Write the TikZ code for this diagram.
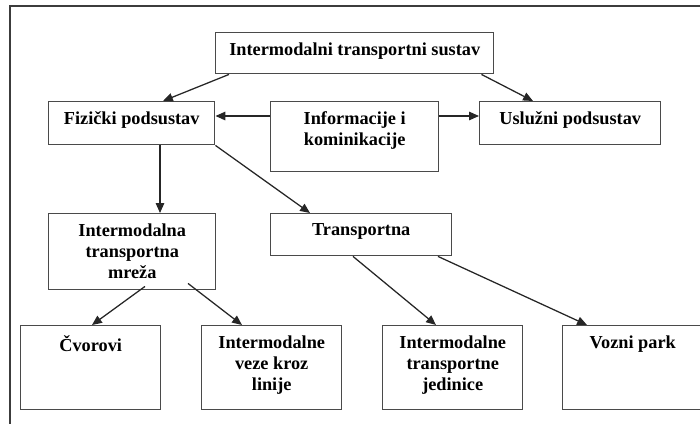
\documentclass[tikz,border=0pt]{standalone}
\usepackage{fontspec}
\setmainfont{Liberation Serif}
\usepackage{tikz}
\usetikzlibrary{arrows.meta, positioning, calc}
\definecolor{frameline}{HTML}{3C3C3C}
\definecolor{boxline}{HTML}{4A4A4A}

\tikzset{
  box/.style={draw=boxline, line width=1pt, inner sep=0pt, anchor=north west},
  boxtext/.style={anchor=north, yshift=-7.5pt, align=center, inner sep=0pt,
    font=\fontsize{13}{15}\selectfont\bfseries},
  arr/.style={-{Triangle[length=7pt,width=6pt]}, line width=0.9pt, draw=black!85}
}

\begin{document}
\begin{tikzpicture}[x=0.025cm, y=-0.025cm]
  \useasboundingbox (0,0) rectangle (700,423);
  \clip (0,0) rectangle (700,423);
  % outer frame, cut at right and bottom
  \draw[frameline, line width=0.8pt] (10,430) -- (10,6) -- (710,6);

  % first row
  \node[box, minimum width=6.95cm, minimum height=1.025cm,
    label={[boxtext]north:Intermodalni transportni sustav}] (top) at (215,32) {};
  \node[box, minimum width=4.15cm, minimum height=1.075cm,
    label={[boxtext]north:Fizički podsustav}] (fiz) at (48,101) {};
  \node[box, minimum width=4.2cm, minimum height=1.75cm,
    label={[boxtext]north:Informacije i\\kominikacije}] (inf) at (270,101) {};
  \node[box, minimum width=4.525cm, minimum height=1.075cm,
    label={[boxtext]north:Uslužni podsustav}] (usl) at (479,101) {};

  % second row
  \node[box, minimum width=4.175cm, minimum height=1.9cm,
    label={[boxtext]north:Intermodalna\\transportna\\mreža}] (mreza) at (48,213) {};
  \node[box, minimum width=4.525cm, minimum height=1.05cm,
    label={[boxtext]north:Transportna}] (trans) at (270,213) {};

  % third row
  \node[box, minimum width=3.5cm, minimum height=2.1cm,
    label={[boxtext]north:Čvorovi}] (cvor) at (20,325) {};
  \node[box, minimum width=3.5cm, minimum height=2.1cm,
    label={[boxtext]north:Intermodalne\\veze kroz\\linije}] (veze) at (201,325) {};
  \node[box, minimum width=3.5cm, minimum height=2.1cm,
    label={[boxtext]north:Intermodalne\\transportne\\jedinice}] (jed) at (382,325) {};
  \node[box, minimum width=3.5cm, minimum height=2.1cm,
    label={[boxtext]north:Vozni park}] (voz) at (562,325) {};

  % connectors
  \draw[arr] ($(top.south west)+(14,0)$) -- ($(fiz.north west)+(115,0)$);
  \draw[arr] ($(top.south east)+(-13,0)$) -- ($(usl.north west)+(54,0)$);
  \draw[arr] ($(inf.north west)+(0,15)$) -- ($(fiz.north east)+(0,15)$);
  \draw[arr] ($(inf.north east)+(0,15)$) -- ($(usl.north west)+(0,15)$);
  \draw[arr] ($(fiz.south west)+(112,0)$) -- ($(mreza.north west)+(112,0)$);
  \draw[arr] (fiz.south east) -- ($(trans.north west)+(40,0)$);
  \draw[arr] ($(mreza.south west)+(97,-4)$) -- ($(cvor.north west)+(72,0)$);
  \draw[arr] ($(mreza.south west)+(140,-7)$) -- ($(veze.north west)+(41,0)$);
  \draw[arr] ($(trans.south west)+(83,0)$) -- ($(jed.north west)+(54,0)$);
  \draw[arr] ($(trans.south west)+(168,0)$) -- ($(voz.north west)+(25,0)$);
\end{tikzpicture}
\end{document}
